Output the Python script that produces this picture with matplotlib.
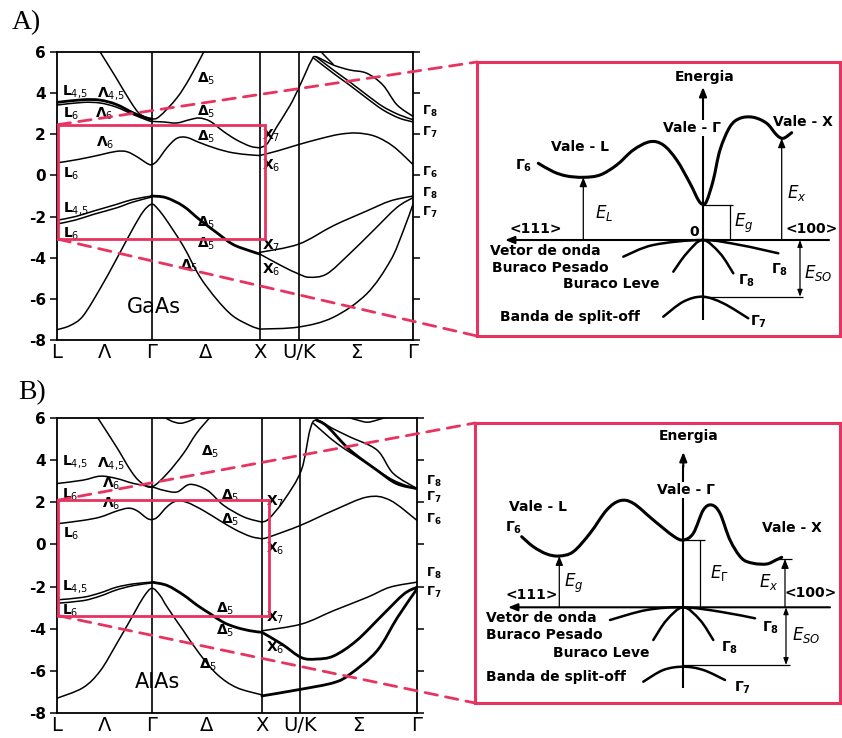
import numpy as np
import matplotlib
matplotlib.use("Agg")
import matplotlib.pyplot as plt
from matplotlib.path import Path
from matplotlib.patches import PathPatch, Rectangle, ConnectionPatch

plt.rcParams['font.family'] = ['DejaVu Sans']
plt.rcParams['mathtext.fontset'] = 'dejavusans'

# ---------------- data: path labels ----------------
PATH_LABELS = ["L", "Λ", "Γ", "Δ", "X", "U/K", "Σ", "Γ"]
YTICKS = [6, 4, 2, 0, -2, -4, -6, -8]
YTICK_LABELS = ["6", "4", "2", "0", "-2", "-4", "-6", "-8"]

# high-symmetry k positions (L, Gamma, X, U/K, Gamma)
GAAS_SYM = [0.0, 0.877, 1.88, 2.24, 3.30]
ALAS_SYM = [0.0, 0.877, 1.895, 2.25, 3.33]

# ---------------- GaAs bands (k, E in eV) ----------------
GAAS_CB1_LX = [(0.0, 0.61), (0.2, 0.78), (0.40, 1.0), (0.55, 1.17), (0.65, 1.15), (0.75, 0.88), (0.83, 0.6),
               (0.877, 0.52), (0.93, 0.72), (1.02, 1.35), (1.11, 1.80), (1.2, 1.85), (1.32, 1.6), (1.48, 1.3),
               (1.63, 1.1), (1.79, 1.0), (1.88, 0.97)]
GAAS_CB1_XG = [(1.88, 0.97), (2.05, 1.2), (2.24, 1.5), (2.45, 1.8), (2.62, 2.0), (2.78, 2.06), (2.95, 1.9),
               (3.12, 1.4), (3.30, 0.53)]
GAAS_CB2_LX = [(0.0, 3.42), (0.24, 3.55), (0.40, 3.52), (0.55, 3.32), (0.71, 2.95), (0.83, 2.7), (0.877, 2.63),
               (0.985, 2.6), (1.11, 2.55), (1.23, 2.71), (1.32, 2.79), (1.42, 2.63), (1.54, 2.15), (1.66, 1.74),
               (1.79, 1.42), (1.88, 1.34)]
GAAS_CB3_LG = [(0.0, 3.55), (0.24, 3.68), (0.40, 3.66), (0.55, 3.45), (0.71, 3.03), (0.83, 2.79), (0.877, 2.74)]
GAAS_CB4_PAR = [(0.40, 6.0), (0.55, 4.73), (0.68, 3.6), (0.77, 2.98), (0.877, 2.76), (0.95, 2.87), (1.11, 3.76),
                (1.23, 4.73), (1.36, 6.0)]
GAAS_CB5_XG = [(1.88, 1.34), (1.95, 1.55), (2.03, 2.3), (2.16, 3.4), (2.24, 4.24), (2.31, 5.05), (2.36, 5.6),
               (2.40, 5.77), (2.56, 5.37), (2.71, 5.13), (2.87, 4.97), (3.02, 4.4), (3.15, 3.44), (3.30, 2.87)]
GAAS_CB6_XG = [(2.40, 5.77), (2.56, 5.13), (2.71, 4.56), (2.87, 3.92), (3.02, 3.35), (3.17, 2.95), (3.30, 2.71)]
GAAS_CB7_XG = [(2.38, 5.70), (2.56, 4.97), (2.71, 4.40), (2.87, 3.76), (3.02, 3.19), (3.17, 2.79), (3.30, 2.60)]
GAAS_CB8_XG = [(2.44, 6.05), (2.50, 5.72), (2.56, 5.40)]
GAAS_VB1_LG = [(0.0, -2.18), (0.17, -2.0), (0.34, -1.73), (0.55, -1.41), (0.70, -1.17), (0.877, -1.0)]
GAAS_VB2_LG = [(0.0, -2.36), (0.17, -2.17), (0.34, -1.89), (0.55, -1.58), (0.70, -1.3), (0.877, -1.05)]
GAAS_VB_HH_GX = [(0.877, -1.0), (1.01, -1.08), (1.17, -1.49), (1.32, -2.14), (1.48, -2.78), (1.63, -3.35),
                 (1.79, -3.67), (1.88, -3.82)]
GAAS_VB_UP_XG = [(1.88, -3.74), (2.24, -3.34), (2.56, -2.45), (2.87, -1.73), (3.09, -1.24), (3.30, -1.0)]
GAAS_VB_X6_XG = [(1.88, -3.82), (2.08, -4.39), (2.24, -4.79), (2.34, -4.95), (2.50, -4.79), (2.71, -3.82),
                 (2.93, -2.69), (3.15, -1.56), (3.30, -1.08)]
GAAS_VB_LOW_LX = [(0.0, -7.5), (0.12, -7.3), (0.24, -6.84), (0.40, -5.5), (0.55, -4.08), (0.70, -2.62),
                  (0.80, -1.75), (0.877, -1.4), (0.93, -1.6), (1.01, -2.14), (1.17, -3.43), (1.32, -4.89),
                  (1.48, -6.02), (1.63, -6.83), (1.79, -7.3), (1.88, -7.47)]
GAAS_VB_LOW_XG = [(1.88, -7.47), (2.24, -7.37), (2.56, -6.9), (2.87, -5.76), (3.09, -4.15), (3.21, -2.69),
                  (3.30, -1.4)]

GAAS_THIN = [GAAS_CB1_LX, GAAS_CB1_XG, GAAS_CB2_LX, GAAS_CB4_PAR, GAAS_CB5_XG, GAAS_CB6_XG, GAAS_CB7_XG,
             GAAS_CB8_XG, GAAS_VB1_LG, GAAS_VB2_LG, GAAS_VB_UP_XG, GAAS_VB_X6_XG, GAAS_VB_LOW_LX, GAAS_VB_LOW_XG]
GAAS_THICK = [GAAS_CB3_LG, GAAS_VB_HH_GX]

GAAS_LABELS = [(r"L$_{4,\!5}$", 0.05, 4.1), (r"Λ$_{4,\!5}$", 0.37, 4.0), (r"L$_6$", 0.06, 3.0), (r"Λ$_6$", 0.35, 3.0),
               (r"Λ$_6$", 0.36, 1.6), (r"L$_6$", 0.06, 0.1), (r"Δ$_5$", 1.30, 4.7), (r"Δ$_5$", 1.30, 3.1),
               (r"Δ$_5$", 1.30, 1.9), (r"X$_7$", 1.90, 1.95), (r"X$_6$", 1.90, 0.45), (r"L$_{4,\!5}$", 0.06, -1.6),
               (r"L$_6$", 0.06, -2.85), (r"Δ$_5$", 1.30, -2.3), (r"Δ$_5$", 1.30, -3.3), (r"Δ$_5$", 1.14, -4.4),
               (r"X$_7$", 1.90, -3.4), (r"X$_6$", 1.90, -4.6)]
GAAS_GAMMA_LABELS = [(r"$\mathbf{\Gamma_8}$", 3.1), (r"$\mathbf{\Gamma_7}$", 2.1), (r"$\mathbf{\Gamma_6}$", 0.15),
                     (r"$\mathbf{\Gamma_8}$", -0.9), (r"$\mathbf{\Gamma_7}$", -1.8)]

# ---------------- AlAs bands ----------------
ALAS_CB1_LX = [(0.0, 0.98), (0.24, 1.14), (0.40, 1.30), (0.55, 1.58), (0.66, 1.72), (0.74, 1.6), (0.83, 1.25),
               (0.877, 1.18), (0.93, 1.3), (1.02, 1.8), (1.1, 2.05), (1.2, 2.0), (1.35, 1.62), (1.50, 1.15),
               (1.65, 0.7), (1.79, 0.38), (1.895, 0.27)]
ALAS_CB1_XG = [(1.895, 0.27), (1.96, 0.35), (2.25, 0.9), (2.56, 1.62), (2.87, 2.25), (3.08, 2.1), (3.33, 1.14)]
ALAS_CB2_LX = [(0.0, 2.89), (0.24, 3.05), (0.40, 3.24), (0.55, 3.13), (0.71, 2.89), (0.877, 2.73), (0.985, 2.57),
               (1.11, 2.49), (1.23, 2.85), (1.39, 2.57), (1.54, 1.86), (1.73, 1.3), (1.895, 1.06)]
ALAS_CB3_PAR = [(0.37, 6.06), (0.55, 4.63), (0.68, 3.52), (0.77, 2.97), (0.877, 2.73), (1.02, 3.37), (1.17, 4.32),
                (1.29, 5.27), (1.42, 6.06)]
ALAS_CB4_TOP = [(0.99, 6.05), (1.06, 5.85), (1.14, 5.75), (1.22, 5.85), (1.31, 6.05)]
ALAS_CB5_XG = [(1.895, 1.06), (1.96, 1.22), (2.10, 2.1), (2.26, 3.52), (2.34, 5.43), (2.40, 5.9), (2.55, 5.5),
               (2.71, 5.1), (2.96, 4.48), (3.11, 3.37), (3.33, 2.65)]
ALAS_CB6_XG = [(2.40, 5.9), (2.50, 5.6), (2.71, 4.48), (2.96, 3.52), (3.14, 2.89), (3.33, 2.65)]
ALAS_CB7_XG = [(2.37, 5.75), (2.59, 4.79), (2.87, 3.84), (3.11, 3.05), (3.33, 2.62)]
ALAS_CB8_TOP = [(2.68, 6.05), (2.78, 5.9), (2.87, 5.8), (2.96, 5.9), (3.05, 6.05)]
ALAS_VB1_LG = [(0.0, -2.63), (0.24, -2.51), (0.40, -2.3), (0.55, -2.03), (0.71, -1.87), (0.877, -1.79)]
ALAS_VB2_LG = [(0.0, -2.79), (0.24, -2.67), (0.40, -2.45), (0.55, -2.16), (0.71, -1.95), (0.877, -1.83)]
ALAS_VB_HH_GX = [(0.877, -1.79), (1.02, -1.95), (1.17, -2.4), (1.30, -2.9), (1.42, -3.3), (1.54, -3.7),
                 (1.66, -3.94), (1.79, -4.1), (1.895, -4.17)]
ALAS_VB_LOW_LX = [(0.0, -7.3), (0.24, -6.8), (0.40, -6.0), (0.55, -4.73), (0.71, -3.3), (0.80, -2.5),
                  (0.877, -2.08), (0.95, -2.4), (1.02, -2.98), (1.17, -4.1), (1.32, -5.2), (1.48, -6.16),
                  (1.66, -6.79), (1.895, -7.14)]
ALAS_VB_UP_XG = [(1.895, -4.1), (2.26, -3.78), (2.56, -3.14), (2.87, -2.51), (3.08, -2.03), (3.33, -1.79)]
ALAS_VB_X6_XG = [(1.895, -4.17), (2.08, -4.73), (2.26, -5.37), (2.40, -5.44), (2.56, -5.29), (2.77, -4.57),
                 (3.02, -3.3), (3.21, -2.35), (3.33, -2.03)]
ALAS_VB_LOW_XG = [(1.895, -7.19), (2.26, -6.87), (2.56, -6.56), (2.71, -6.16), (2.96, -5.05), (3.15, -3.46),
                  (3.33, -2.11)]

ALAS_THIN = [ALAS_CB1_LX, ALAS_CB1_XG, ALAS_CB2_LX, ALAS_CB3_PAR, ALAS_CB4_TOP, ALAS_CB5_XG, ALAS_CB7_XG,
             ALAS_CB8_TOP, ALAS_VB1_LG, ALAS_VB2_LG, ALAS_VB_LOW_LX, ALAS_VB_UP_XG]
ALAS_THICK = [ALAS_CB6_XG, ALAS_VB_HH_GX, ALAS_VB_X6_XG, ALAS_VB_LOW_XG]

ALAS_LABELS = [(r"L$_{4,\!5}$", 0.05, 3.95), (r"Λ$_{4,\!5}$", 0.37, 3.85), (r"Λ$_6$", 0.42, 2.9),
               (r"L$_6$", 0.05, 2.35), (r"Λ$_6$", 0.42, 1.95), (r"L$_6$", 0.06, 0.5), (r"Δ$_5$", 1.33, 4.4),
               (r"Δ$_5$", 1.52, 2.3), (r"Δ$_5$", 1.52, 1.15), (r"X$_7$", 1.93, 2.0), (r"X$_6$", 1.93, -0.2),
               (r"L$_{4,\!5}$", 0.05, -2.0), (r"L$_6$", 0.05, -3.15), (r"Δ$_5$", 1.47, -3.05),
               (r"Δ$_5$", 1.47, -4.1), (r"Δ$_5$", 1.31, -5.7), (r"X$_7$", 1.93, -3.5), (r"X$_6$", 1.93, -4.9)]
ALAS_GAMMA_LABELS = [(r"$\mathbf{\Gamma_8}$", 3.0), (r"$\mathbf{\Gamma_7}$", 2.25), (r"$\mathbf{\Gamma_6}$", 1.2),
                     (r"$\mathbf{\Gamma_8}$", -1.4), (r"$\mathbf{\Gamma_7}$", -2.3)]

# zoom rectangles (k0, k1, E_bottom, E_top)
GAAS_ZOOM = (0.01, 1.93, -3.1, 2.47)
ALAS_ZOOM = (0.01, 1.96, -3.38, 2.1)

# ---------------- schematic panels (pixel coordinates of the inset) ----------------
SA_CB = [(538.3, 163.3), (553.3, 171.7), (566.7, 176), (583.3, 177.3), (600, 175), (616.7, 165), (633.3, 150),
         (650, 141.7), (663.3, 145), (676.7, 160), (690, 183.3), (698.3, 200), (702.7, 204.3), (706.7, 201),
         (713.3, 180), (720, 150), (730, 126.7), (740, 118.3), (753.3, 117.3), (766.7, 123.3), (776.7, 135),
         (783.3, 138.3), (791.7, 132.7)]
SA_HH = [(623.3, 256.7), (653.3, 245), (702.7, 240), (740, 245), (778.3, 253.3)]
SA_LH = [(673.3, 271.7), (686.7, 253.3), (702.7, 240), (720, 253.3), (733.3, 273.3)]
SA_SO = [(663.3, 316.7), (683.3, 301.7), (702.7, 296.7), (723.3, 303.3), (748.3, 318.3)]

SB_CB = [(521.7, 536.7), (533.3, 546.7), (546.7, 554), (559.3, 556), (573.3, 551.7), (590, 533.3), (606.7, 510),
         (620, 500.7), (633.3, 503.3), (653.3, 520), (673.3, 536), (683.3, 540), (693.3, 533.3), (703.3, 510),
         (711.7, 505), (720, 513.3), (730, 540), (741.7, 558.3), (753.3, 563.3), (766.7, 564), (776, 560),
         (781.7, 557.3)]
SB_HH = [(610, 620), (646.7, 610), (683.3, 607.3), (720, 611.7), (755, 618.3)]
SB_LH = [(653.3, 640), (666.7, 620), (683.3, 607.3), (700, 620), (713.3, 640)]
SB_SO = [(643.3, 681.7), (663.3, 670), (683.3, 666.7), (703.3, 670), (725, 680)]

RED = '#e8325f'

W, H = 842, 738
fig = plt.figure(figsize=(W / 100, H / 100), dpi=100)


def px_axes(l, t, r, b):
    return fig.add_axes([l / W, 1 - b / H, (r - l) / W, (b - t) / H])


def smooth_path(pts):
    P = np.asarray(pts, float)
    n = len(P)
    verts = [P[0]]
    codes = [Path.MOVETO]
    for i in range(n - 1):
        p0 = P[i - 1] if i > 0 else P[i]
        p1, p2 = P[i], P[i + 1]
        p3 = P[i + 2] if i + 2 < n else P[i + 1]
        verts += [p1 + (p2 - p0) / 6.0, p2 - (p3 - p1) / 6.0, p2]
        codes += [Path.CURVE4] * 3
    return Path(verts, codes)


def draw_curve(ax, pts, lw, color='black'):
    patch = PathPatch(smooth_path(pts), fill=False, lw=lw, ec=color, capstyle='round', joinstyle='round')
    ax.add_patch(patch)
    return patch


def band_panel(ax, sym, thin, thick, labels, glabels, name, name_pos, zoom):
    for b in thin:
        draw_curve(ax, b, 1.1)
    for b in thick:
        draw_curve(ax, b, 2.0)
    for k in sym[1:4]:
        ax.axvline(k, color='black', lw=1.2)
    ax.set_xlim(sym[0], sym[4])
    ax.set_ylim(-8, 6)
    xt = [sym[0], (sym[0] + sym[1]) / 2, sym[1], (sym[1] + sym[2]) / 2, sym[2], sym[3], (sym[3] + sym[4]) / 2, sym[4]]
    ax.set_xticks(xt)
    ax.set_xticklabels(PATH_LABELS, fontsize=14)
    ax.tick_params(axis='x', length=0, pad=2)
    ax.set_yticks(YTICKS)
    ax.set_yticklabels(YTICK_LABELS, fontsize=11, fontweight='bold')
    ax.tick_params(axis='y', direction='out', length=5, width=1.1, right=True, pad=3)
    for s in ax.spines.values():
        s.set_linewidth(1.3)
    for txt, k, e in labels:
        ax.text(k, e, txt, fontsize=10, fontweight='bold', ha='left', va='center')
    for txt, e in glabels:
        ax.text(1.025, e, txt, transform=ax.get_yaxis_transform(), fontsize=9, ha='left', va='center',
                clip_on=False)
    ax.text(name_pos[0], name_pos[1], name, fontsize=15, ha='center', va='center')
    k0, k1, e0, e1 = zoom
    ax.add_patch(Rectangle((k0, e0), k1 - k0, e1 - e0, fill=False, ec=RED, lw=2.0, clip_on=False, zorder=5))


def schematic(ax, l, t, r, b, cb, hh, lh, so):
    ax.set_xlim(l, r)
    ax.set_ylim(b, t)
    ax.set_xticks([])
    ax.set_yticks([])
    for s in ax.spines.values():
        s.set_color(RED)
        s.set_linewidth(2.2)
    draw_curve(ax, cb, 2.2)
    draw_curve(ax, hh, 1.8)
    draw_curve(ax, lh, 1.8)
    draw_curve(ax, so, 1.8)


def arrow(ax, tip, base, lw=1.3):
    ax.annotate('', xy=tip, xytext=base,
                arrowprops=dict(arrowstyle='-|>,head_length=0.55,head_width=0.22', color='black', lw=lw,
                                shrinkA=0, shrinkB=0))


def line(ax, xs, ys, lw=0.9):
    ax.plot(xs, ys, color='black', lw=lw, solid_capstyle='butt')


# ---------------- panel A ----------------
axA = px_axes(57, 52, 413, 340)
band_panel(axA, GAAS_SYM, GAAS_THIN, GAAS_THICK, GAAS_LABELS, GAAS_GAMMA_LABELS, "GaAs", (0.9, -6.4), GAAS_ZOOM)

sA = px_axes(477, 62, 840, 336)
schematic(sA, 477, 62, 840, 336, SA_CB, SA_HH, SA_LH, SA_SO)
arrow(sA, (505, 240), (829, 240), 1.5)
line(sA, [703, 703], [320, 100], 1.5)
arrow(sA, (703, 87), (703, 102), 1.5)
arrow(sA, (583.3, 177.3), (583.3, 240), 0.9)
line(sA, [703, 733], [204.5, 204.5])
line(sA, [730, 730], [204.5, 240])
arrow(sA, (781.7, 138.3), (781.7, 240), 0.9)
line(sA, [703, 803], [296.7, 296.7])
sA.annotate('', xy=(800, 240), xytext=(800, 296.7),
            arrowprops=dict(arrowstyle='<|-|>,head_length=0.4,head_width=0.15', color='black', lw=0.9,
                            shrinkA=0, shrinkB=0))
bold = dict(fontsize=10, fontweight='bold')
sA.text(705, 77, "Energia", ha='center', va='center', **bold)
sA.text(692, 128, "Vale - Γ", ha='center', va='center', bbox=dict(fc='white', ec='none', pad=1), **bold)
sA.text(803, 122, "Vale - X", ha='center', va='center', **bold)
sA.text(580, 147, "Vale - L", ha='center', va='center', **bold)
sA.text(524, 166, r"$\mathbf{\Gamma_6}$", ha='center', va='center', fontsize=10)
sA.text(604, 213, r"$E_L$", ha='center', va='center', fontsize=12)
sA.text(744, 223, r"$E_g$", ha='center', va='center', fontsize=12)
sA.text(797, 193, r"$E_x$", ha='center', va='center', fontsize=12)
sA.text(536, 229, "<111>", ha='center', va='center', **bold)
sA.text(694, 232, "0", ha='center', va='center', **bold)
sA.text(812, 229, "<100>", ha='center', va='center', **bold)
sA.text(490, 251, "Vetor de onda", ha='left', va='center', **bold)
sA.text(492, 268, "Buraco Pesado", ha='left', va='center', **bold)
sA.text(563, 284, "Buraco Leve", ha='left', va='center', **bold)
sA.text(500, 317, "Banda de split-off", ha='left', va='center', **bold)
sA.text(780, 270, r"$\mathbf{\Gamma_8}$", ha='center', va='center', fontsize=10)
sA.text(747, 281, r"$\mathbf{\Gamma_8}$", ha='center', va='center', fontsize=10)
sA.text(758, 322, r"$\mathbf{\Gamma_7}$", ha='center', va='center', fontsize=10)
sA.text(818, 273, r"$E_{SO}$", ha='center', va='center', fontsize=12)

# ---------------- panel B ----------------
axB = px_axes(57, 418, 417, 713)
band_panel(axB, ALAS_SYM, ALAS_THIN, ALAS_THICK, ALAS_LABELS, ALAS_GAMMA_LABELS, "AlAs", (0.93, -6.55), ALAS_ZOOM)

sB = px_axes(475, 423, 840, 703)
schematic(sB, 475, 423, 840, 703, SB_CB, SB_HH, SB_LH, SB_SO)
arrow(sB, (508, 607.3), (830, 607.3), 1.5)
line(sB, [683.3, 683.3], [688, 465], 1.5)
arrow(sB, (683.3, 452), (683.3, 467), 1.5)
arrow(sB, (559.3, 556), (559.3, 607.3), 0.9)
line(sB, [683.3, 705], [540, 540])
line(sB, [700, 700], [540, 607.3])
arrow(sB, (785, 559), (785, 607.3), 0.9)
line(sB, [778, 792], [559, 559])
line(sB, [683.3, 790], [665, 665])
sB.annotate('', xy=(786, 607.3), xytext=(786, 665),
            arrowprops=dict(arrowstyle='<|-|>,head_length=0.4,head_width=0.15', color='black', lw=0.9,
                            shrinkA=0, shrinkB=0))
sB.text(689, 436, "Energia", ha='center', va='center', **bold)
sB.text(686, 490, "Vale - Γ", ha='center', va='center', bbox=dict(fc='white', ec='none', pad=1), **bold)
sB.text(538, 507, "Vale - L", ha='center', va='center', **bold)
sB.text(792, 528, "Vale - X", ha='center', va='center', **bold)
sB.text(514, 528, r"$\mathbf{\Gamma_6}$", ha='center', va='center', fontsize=10)
sB.text(574, 583, r"$E_g$", ha='center', va='center', fontsize=12)
sB.text(719, 573, r"$E_\Gamma$", ha='center', va='center', fontsize=12)
sB.text(769, 582, r"$E_x$", ha='center', va='center', fontsize=12)
sB.text(532, 595, "<111>", ha='center', va='center', **bold)
sB.text(811, 593, "<100>", ha='center', va='center', **bold)
sB.text(486, 618, "Vetor de onda", ha='left', va='center', **bold)
sB.text(486, 635, "Buraco Pesado", ha='left', va='center', **bold)
sB.text(553, 653, "Buraco Leve", ha='left', va='center', **bold)
sB.text(486, 677, "Banda de split-off", ha='left', va='center', **bold)
sB.text(771, 628, r"$\mathbf{\Gamma_8}$", ha='center', va='center', fontsize=10)
sB.text(730, 648, r"$\mathbf{\Gamma_8}$", ha='center', va='center', fontsize=10)
sB.text(742, 688, r"$\mathbf{\Gamma_7}$", ha='center', va='center', fontsize=10)
sB.text(806, 635, r"$E_{SO}$", ha='center', va='center', fontsize=12)

# ---------------- dashed connectors ----------------
for ax_band, ax_s, zoom in [(axA, sA, GAAS_ZOOM), (axB, sB, ALAS_ZOOM)]:
    k0, k1, e0, e1 = zoom
    for e, yb in [(e1, 1.0), (e0, 0.0)]:
        cp = ConnectionPatch(xyA=(k0, e), coordsA='data', axesA=ax_band, xyB=(0, yb), coordsB='axes fraction',
                             axesB=ax_s, color=RED, lw=2.0, linestyle=(0, (4.5, 3)), zorder=10)
        fig.add_artist(cp)

fig.text(12 / W, 1 - 23 / H, "A)", fontsize=20, family='Liberation Serif', ha='left', va='center')
fig.text(18 / W, 1 - 393 / H, "B)", fontsize=20, family='Liberation Serif', ha='left', va='center')

fig.savefig("out.png", dpi=100)
